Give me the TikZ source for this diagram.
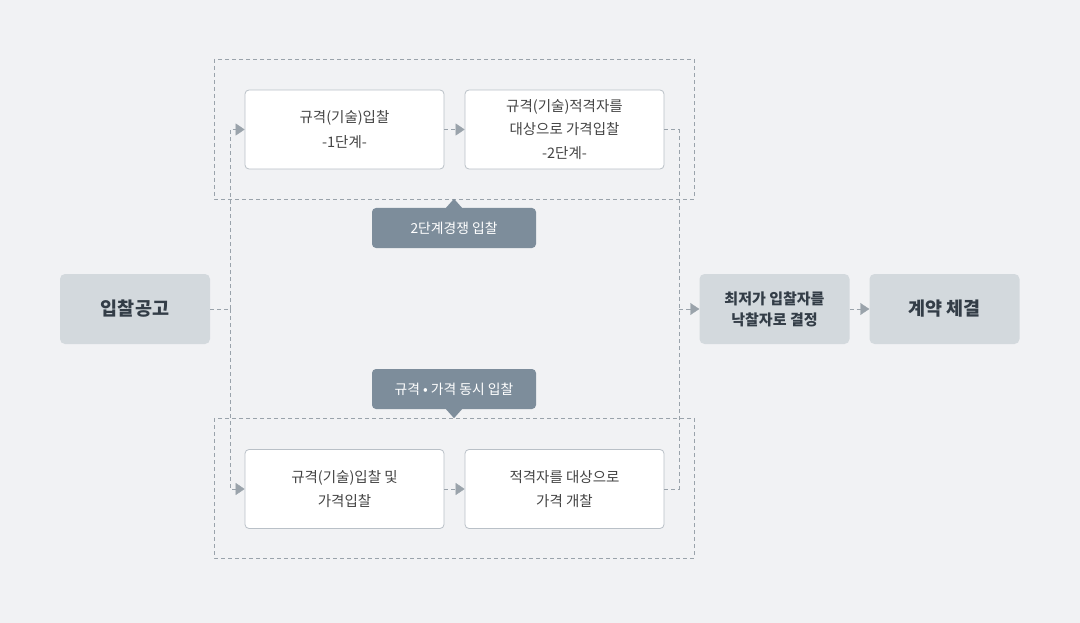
\documentclass[tikz,border=0pt]{standalone}
\usepackage{fontspec}
\setmainfont{Noto Sans CJK KR}
\usetikzlibrary{arrows.meta,positioning}
\definecolor{bg}{HTML}{F1F2F4}
\definecolor{boxgray}{HTML}{D3D9DD}
\definecolor{boxline}{HTML}{B9C0C7}
\definecolor{tagfill}{HTML}{7D8D9B}
\definecolor{linkgray}{HTML}{9AA3AB}
\definecolor{darktext}{HTML}{333D47}
\definecolor{bodytext}{HTML}{444444}
\begin{document}
\begin{tikzpicture}[x=1pt,y=-1pt,
    stepbox/.style={draw=boxline,line width=0.8pt,fill=white,rounded corners=4pt,
        minimum width=199pt,minimum height=79pt,align=center,text=bodytext,
        font=\fontsize{14.5}{24.5}\selectfont},
    graybox/.style={fill=boxgray,rounded corners=5pt,minimum width=150pt,minimum height=70pt,
        align=center,text=darktext},
    tag/.style={fill=tagfill,rounded corners=4pt,minimum width=164pt,minimum height=40pt,
        text=white,font=\fontsize{13.8}{16}\selectfont},
    frame/.style={draw=linkgray,line width=0.8pt,dash pattern=on 4pt off 3pt},
    link/.style={draw=linkgray,line width=0.8pt,dash pattern=on 4pt off 3pt},
    tip/.style={-{Triangle[length=9pt,width=12pt]},linkgray}]
    \useasboundingbox[fill=bg] (0,0) rectangle (1080,623);
    % dashed frames
    \draw[frame] (214,59) rectangle (694,199);
    \draw[frame] (214,418) rectangle (694,558);
    % stage boxes
    \node [graybox,font=\bfseries\fontsize{18.5}{20}\selectfont] (notice) at (135,309) {입찰공고};
    \node [stepbox] (s1) at (344.5,129.5) {규격(기술)입찰\\-1단계-};
    \node [stepbox] (s2) at (564.5,129.5) {규격(기술)적격자를\\[-1.5pt]대상으로 가격입찰\\-2단계-};
    \node [stepbox] (b1) at (344.5,489) {규격(기술)입찰 및\\가격입찰};
    \node [stepbox] (b2) at (564.5,489) {적격자를 대상으로\\[-1pt]가격 개찰};
    \node [graybox,font=\bfseries\fontsize{15}{21}\selectfont] (lowest) at (774.5,309) {최저가 입찰자를\\낙찰자로 결정};
    \node [graybox,font=\bfseries\fontsize{18.5}{20}\selectfont] (contract) at (944.5,309) {계약 체결};
    % tags
    \node [tag] (twostep) at (454,228) {2단계경쟁 입찰};
    \node [tag] (together) at (454,389) {규격 • 가격 동시 입찰};
    \fill[tagfill] ([xshift=-8pt]twostep.north) -- ([yshift=9pt]twostep.north) -- ([xshift=8pt]twostep.north) -- cycle;
    \fill[tagfill] ([xshift=-8pt]together.south) -- ([yshift=-9pt]together.south) -- ([xshift=8pt]together.south) -- cycle;
    % connectors
    \coordinate (split) at (230,309);
    \coordinate (merge) at (679,309);
    \draw[link] (notice.east) -- (split);
    \draw[link] (split) |- (s1.west);
    \draw[link] (split) |- (b1.west);
    \draw[link] (s1.east) -- (s2.west);
    \draw[link] (b1.east) -- (b2.west);
    \draw[link] (s2.east) -| (merge);
    \draw[link] (b2.east) -| (merge);
    \draw[link] (merge) -- (lowest.west);
    \draw[link] (lowest.east) -- (contract.west);
    % arrow tips
    \foreach \n in {s1,b1,s2,b2,lowest,contract}
        \draw[tip] ([xshift=-9pt]\n.west) -- (\n.west);
\end{tikzpicture}
\end{document}
